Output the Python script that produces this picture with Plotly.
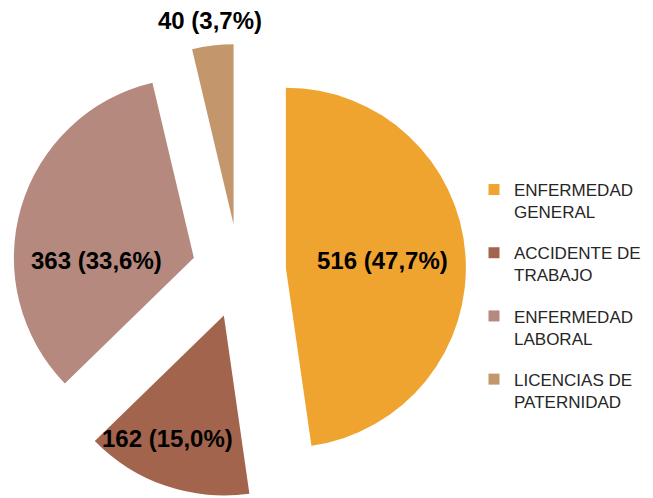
import math
import plotly.graph_objects as go

categories = ["ENFERMEDAD GENERAL", "ACCIDENTE DE TRABAJO", "ENFERMEDAD LABORAL", "LICENCIAS DE PATERNIDAD"]
legend_labels = ["ENFERMEDAD<br>GENERAL", "ACCIDENTE DE<br>TRABAJO", "ENFERMEDAD<br>LABORAL", "LICENCIAS DE<br>PATERNIDAD"]
values = [516, 162, 363, 40]
colors = ["#F0A430", "#A3644E", "#B6897E", "#C4966C"]
# label placement style: radial fraction from the exploded slice apex, angular shift (deg)
label_radius = [0.54, 0.75, 0.54, 1.14]
label_shift = [0, 6, -18, 0]

W, H = 653, 498
OFF = 8  # page body margin compensation
PULL = 0.261
DOM_X = [(12 - OFF) / W, (466 - OFF) / W]
DOM_Y = [OFF / H, (454 + OFF) / H]

fig = go.Figure()
fig.add_trace(go.Pie(
    labels=categories,
    values=values,
    sort=False,
    direction="clockwise",
    rotation=0,
    pull=PULL,
    marker=dict(colors=colors, line=dict(width=0)),
    textinfo="none",
    domain=dict(x=DOM_X, y=DOM_Y),
    showlegend=False,
    hoverinfo="label+value+percent",
))

# legend entries (one group per category to control spacing)
for lab, col in zip(legend_labels, colors):
    fig.add_trace(go.Scatter(
        x=[None], y=[None], mode="markers", name=lab, legendgroup=lab,
        marker=dict(symbol="square", size=11, color=col),
        hoverinfo="skip",
    ))

# data labels positioned from the pie geometry (plotly pie layout rule)
box_w = W * (DOM_X[1] - DOM_X[0])
box_h = H * (DOM_Y[1] - DOM_Y[0])
r = min(box_w, box_h) / (2 + 2 * PULL)
cx = W * (DOM_X[0] + DOM_X[1]) / 2
cy = H * (1 - DOM_Y[0]) - box_h / 2
total = sum(values)
cum = 0
annotations = []
for v, frac, shift in zip(values, label_radius, label_shift):
    mid = (cum + v / 2) / total * 2 * math.pi
    cum += v
    ax = cx + PULL * r * math.sin(mid)
    ay = cy - PULL * r * math.cos(mid)
    a2 = mid + math.radians(shift)
    tx = ax + frac * r * math.sin(a2)
    ty = ay - frac * r * math.cos(a2)
    pct = f"{v / total * 100:.1f}".replace(".", ",")
    annotations.append(dict(
        x=tx / W, y=1 - ty / H, xref="paper", yref="paper",
        text=f"<b>{v} ({pct}%)</b>", showarrow=False,
        xanchor="center", yanchor="middle",
        font=dict(family="Arial, Liberation Sans", size=24, color="#000000"),
    ))

fig.update_layout(
    width=W, height=H,
    margin=dict(l=0, r=0, t=0, b=0, autoexpand=False),
    paper_bgcolor="white",
    plot_bgcolor="white",
    xaxis=dict(visible=False),
    yaxis=dict(visible=False),
    showlegend=True,
    annotations=annotations,
    legend=dict(
        x=466 / W, y=0.6707, xanchor="left", yanchor="top",
        font=dict(family="Arial, Liberation Sans", size=17, color="#262626"),
        valign="top",
        itemwidth=30,
        tracegroupgap=16,
        bgcolor="rgba(0,0,0,0)",
    ),
)

fig.write_html("out.html")
